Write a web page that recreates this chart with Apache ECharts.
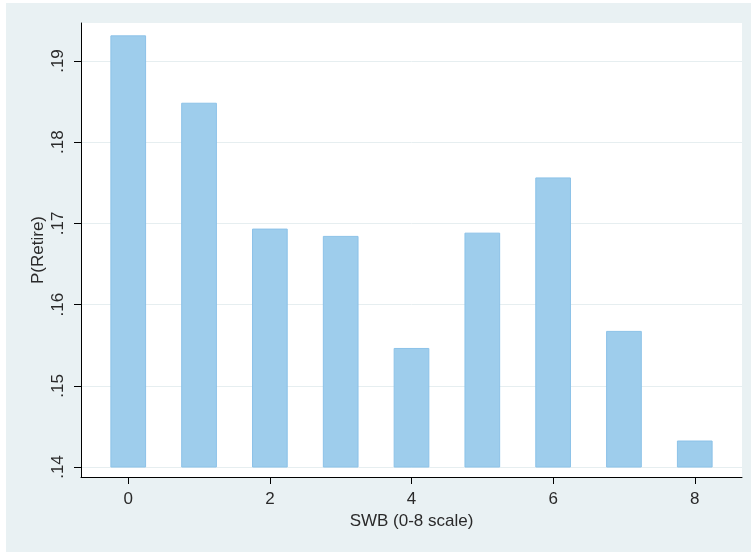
<!DOCTYPE html>
<html>
<head>
<meta charset="utf-8">
<script src="https://cdn.jsdelivr.net/npm/echarts@6/dist/echarts.min.js"></script>
<style>
  html, body { margin: 0; padding: 0; background: #ffffff; width: 751px; height: 552px; overflow: hidden; }
  #chart { position: absolute; left: 6px; top: 3px; width: 745px; height: 549px; }
</style>
</head>
<body>
<div id="chart"></div>
<script>
// Data
const categories = [0, 1, 2, 3, 4, 5, 6, 7, 8];
const pRetire = [0.1931, 0.1848, 0.1693, 0.1684, 0.1546, 0.1688, 0.1756, 0.1567, 0.1432];
const xTicks = [0, 2, 4, 6, 8];
const yTicks = [0.14, 0.15, 0.16, 0.17, 0.18, 0.19];
const BASE = 0.14;

const chart = echarts.init(document.getElementById('chart'), null, { renderer: 'canvas' });
const FONT = '"Liberation Sans", Arial, sans-serif';

chart.setOption({
  backgroundColor: '#e9f1f3',
  animation: false,
  grid: {
    left: 75, right: 9, top: 20, bottom: 75,
    show: true, backgroundColor: '#ffffff', borderWidth: 0
  },
  xAxis: {
    type: 'value',
    min: -0.667, max: 8.667,
    name: 'SWB (0-8 scale)',
    nameLocation: 'middle',
    nameGap: 35,
    nameTextStyle: { fontFamily: FONT, fontSize: 17, color: '#2a2a2a' },
    axisLine: { show: true, onZero: false, lineStyle: { color: '#000', width: 1 } },
    axisTick: { show: true, length: 7, lineStyle: { color: '#000' }, customValues: xTicks },
    axisLabel: { customValues: xTicks, margin: 14, fontFamily: FONT, fontSize: 17, color: '#2a2a2a' },
    splitLine: { show: false }
  },
  yAxis: {
    type: 'value',
    min: 0.13877, max: 0.19468,
    name: 'P(Retire)',
    nameLocation: 'middle',
    nameRotate: 90,
    nameGap: 34,
    nameMoveOverlap: false,
    nameTextStyle: { fontFamily: FONT, fontSize: 17, color: '#2a2a2a' },
    axisLine: { show: true, onZero: false, lineStyle: { color: '#000', width: 1 } },
    axisTick: { show: true, length: 7, lineStyle: { color: '#000' }, customValues: yTicks },
    axisLabel: {
      customValues: yTicks, rotate: 90, margin: 14,
      fontFamily: FONT, fontSize: 17, color: '#2a2a2a',
      formatter: v => Number(v).toFixed(2).replace(/^0/, '')
    },
    splitLine: { show: true, lineStyle: { color: '#e6eef0', width: 1 } }
  },
  series: [{
    type: 'custom',
    clip: false,
    data: categories.map((c, i) => [c, pRetire[i]]),
    renderItem: function (params, api) {
      const x = api.value(0), v = api.value(1);
      const top = api.coord([x, v]);
      const base = api.coord([x, BASE]);
      const w = api.size([0.49, 0])[0];
      return {
        type: 'rect',
        shape: { x: top[0] - w / 2, y: top[1], width: w, height: base[1] - top[1] },
        style: { fill: '#9ecdec', stroke: '#8cc2e8', lineWidth: 1 }
      };
    }
  }]
});
</script>
</body>
</html>
